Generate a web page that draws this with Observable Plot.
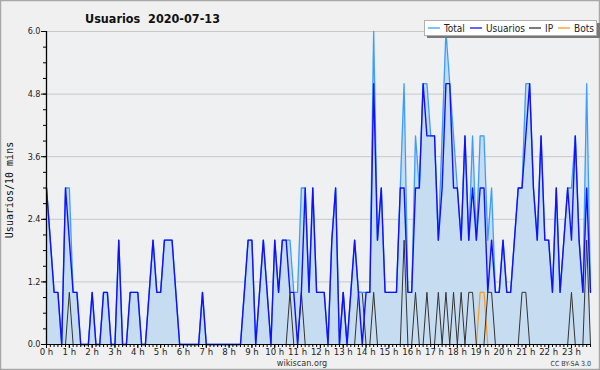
<!DOCTYPE html>
<html><head><meta charset="utf-8">
<script src="https://cdn.jsdelivr.net/npm/d3@7"></script>
<script src="https://cdn.jsdelivr.net/npm/@observablehq/plot@0.6"></script>
<style>
html,body{margin:0;padding:0;background:#f0f0f0;}
#chart{width:600px;height:370px;}
</style></head><body><div id="chart"></div>
<script>
// Hour tick labels (every 6 ten-minute slots)
const hourLabels = ["0 h","1 h","2 h","3 h","4 h","5 h","6 h","7 h","8 h","9 h","10 h","11 h",
  "12 h","13 h","14 h","15 h","16 h","17 h","18 h","19 h","20 h","21 h","22 h","23 h"];
const yTicks = [0, 1.2, 2.4, 3.6, 4.8, 6.0];

// Series: one value per 10 minutes (144 slots)
const total = [
  3,2,1,1,0,3,3,1,1,0,0,0,
  1,0,0,1,1,0,0,2,0,0,1,1,
  1,0,0,1,2,1,1,2,2,2,1,0,
  0,0,0,0,0,1,0,0,0,0,0,0,
  0,0,0,0,1,2,2,0,1,2,1,0,
  2,1,2,2,2,1,1,3,3,1,3,1,
  1,1,0,2,3,0,1,0,1,2,1,1,
  1,1,6,2,3,1,1,1,1,3,5,1,
  1,4,3,5,5,4,4,2,4,6,5,4,
  3,2,4,2,4,2,4,4,2,3,1,1,
  2,1,1,2,3,3,5,5,3,2,4,2,
  2,1,3,1,2,3,3,4,2,1,5,1];
const usuarios = [
  3,2,1,1,0,3,2,1,1,0,0,0,
  1,0,0,1,1,0,0,2,0,0,1,1,
  1,0,0,1,2,1,1,2,2,2,1,0,
  0,0,0,0,0,1,0,0,0,0,0,0,
  0,0,0,0,1,2,2,0,1,2,1,0,
  2,1,2,2,1,1,0,1,3,1,3,1,
  1,1,0,2,3,0,1,0,1,2,1,0,
  1,1,5,2,3,1,1,1,1,3,3,1,
  1,3,3,5,4,4,4,2,3,5,5,3,
  3,2,4,2,3,2,3,3,1,2,1,1,
  2,1,1,2,3,3,4,5,3,2,4,2,
  2,1,3,1,2,3,2,4,2,1,3,1];
const ip = [
  0,0,0,0,0,0,1,0,0,0,0,0,
  0,0,0,0,0,0,0,0,0,0,0,0,
  0,0,0,0,0,0,0,0,0,0,0,0,
  0,0,0,0,0,0,0,0,0,0,0,0,
  0,0,0,0,0,0,0,0,0,0,0,0,
  0,0,0,0,1,0,0,1,0,0,0,0,
  0,0,0,0,0,0,1,0,0,0,1,1,
  0,0,1,0,0,0,0,0,0,0,2,0,
  0,1,0,0,1,0,0,1,0,1,0,1,
  0,1,0,1,1,0,0,0,1,1,0,0,
  0,0,0,0,0,1,1,0,0,0,0,0,
  0,0,0,0,0,0,1,0,0,0,2,0];
const bots = [
  0,0,0,0,0,0,0,0,0,0,0,0,
  0,0,0,0,0,0,0,0,0,0,0,0,
  0,0,0,0,0,0,0,0,0,0,0,0,
  0,0,0,0,0,0,0,0,0,0,0,0,
  0,0,0,0,0,0,0,0,0,0,0,0,
  0,0,0,0,0,0,0,0,0,0,0,0,
  0,0,0,0,0,0,0,0,0,0,0,0,
  0,0,0,0,0,0,0,0,0,0,0,0,
  0,0,0,0,0,0,0,0,0,0,0,0,
  0,0,0,0,0,0,1,1,0,0,0,0,
  0,0,0,0,0,0,0,0,0,0,0,0,
  0,0,0,0,0,0,0,0,0,0,0,0];

const seriesNames = ["Total","Usuarios","IP","Bots"];
const seriesColors = ["#3d9cff","#1010ff","#333333","#ff9a1a"];

const rows = usuarios.map((u, i) => ({i, total: total[i], usuarios: u, ip: ip[i], bots: bots[i]}));
const hourTicks = hourLabels.map((_, h) => h * 6);
const minorX = d3.range(0, 144);
const minorY = d3.range(0, 21).map(k => +(k * 0.3).toFixed(1));

const FONT = "'DejaVu Sans Condensed','DejaVu Sans',sans-serif";

const chart = Plot.plot({
  width: 600, height: 370,
  marginLeft: 46, marginRight: 10, marginTop: 31, marginBottom: 26,
  style: {background: "#f0f0f0", fontFamily: FONT, fontSize: "9px", color: "#222"},
  x: {domain: [0, 143], label: null},
  y: {domain: [0, 6], label: null},
  marks: [
    Plot.frame({fill: "#eef0f2"}),
    Plot.gridY(yTicks.slice(1), {stroke: "#c8c8c8", strokeOpacity: 1}),
    Plot.areaY(rows, {x: "i", y: "total", fill: "#c6dcf0", fillOpacity: 1}),
    Plot.line(rows, {x: "i", y: "bots", stroke: seriesColors[3], strokeWidth: 1.2}),
    Plot.line(rows, {x: "i", y: "ip", stroke: seriesColors[2], strokeWidth: 1}),
    Plot.line(rows, {x: "i", y: "total", stroke: seriesColors[0], strokeWidth: 1.3}),
    Plot.line(rows, {x: "i", y: "usuarios", stroke: seriesColors[1], strokeWidth: 1.4}),
    Plot.ruleY([0], {stroke: "#000"}),
    Plot.ruleX([0], {stroke: "#000", strokeWidth: 1.3}),
    Plot.axisY({ticks: minorY, tickSize: 3, fill: "none", stroke: "#000", label: null}),
    Plot.axisY({ticks: yTicks, tickSize: 5, tickPadding: 1, stroke: "#000", fill: "#222",
                tickFormat: d => d.toFixed(1), label: null, fontSize: 9}),
    Plot.axisX({ticks: minorX, tickSize: 3, fill: "none", stroke: "#000", label: null}),
    Plot.axisX({ticks: hourTicks, tickSize: 4, tickPadding: 0, stroke: "#000", fill: "#222",
                tickFormat: d => hourLabels[d / 6], label: null, fontSize: 9.5})
  ]
});

const svg = d3.select(chart);
// outer border
svg.append("rect").attr("x", 0.5).attr("y", 0.5).attr("width", 599).attr("height", 369)
  .attr("fill", "none").attr("stroke", "#a8a8a8").attr("stroke-width", 1.5);
// title
svg.append("text").attr("x", 85).attr("y", 23).attr("text-anchor", "start").attr("font-family", FONT)
  .attr("font-size", 12.5).attr("font-weight", "bold").attr("fill", "#111")
  .attr("xml:space", "preserve").style("white-space", "pre").text("Usuarios  2020-07-13");
// y label
svg.append("text").attr("transform", "translate(13,190) rotate(-90)")
  .attr("text-anchor", "middle").attr("font-family", "'DejaVu Sans Mono',monospace")
  .attr("font-size", 10).attr("fill", "#111").text("Usuarios/10 mins");
// footer
svg.append("text").attr("x", 302).attr("y", 366).attr("text-anchor", "middle")
  .attr("font-family", FONT).attr("font-size", 9).attr("fill", "#333").text("wikiscan.org");
svg.append("text").attr("x", 591).attr("y", 366).attr("text-anchor", "end")
  .attr("font-family", FONT).attr("font-size", 7).attr("fill", "#333").text("CC BY-SA 3.0");
// legend
const lg = svg.append("g").attr("text-anchor", "start");
lg.append("rect").attr("x", 427).attr("y", 23).attr("width", 173).attr("height", 15).attr("fill", "#777");
lg.append("rect").attr("x", 424.5).attr("y", 20.5).attr("width", 172).attr("height", 15)
  .attr("fill", "#fff").attr("stroke", "#b0b0b0");
const lx = [428, 470, 529, 558];
seriesNames.forEach((name, k) => {
  lg.append("line").attr("x1", lx[k]).attr("x2", lx[k] + 12).attr("y1", 28).attr("y2", 28)
    .attr("stroke", seriesColors[k]).attr("stroke-width", 1.3);
  lg.append("text").attr("x", lx[k] + 16).attr("y", 31.5).attr("text-anchor", "start")
    .attr("font-family", FONT).attr("font-size", 10).attr("fill", "#222").text(name);
});
document.getElementById("chart").appendChild(chart);
</script>
</body></html>
